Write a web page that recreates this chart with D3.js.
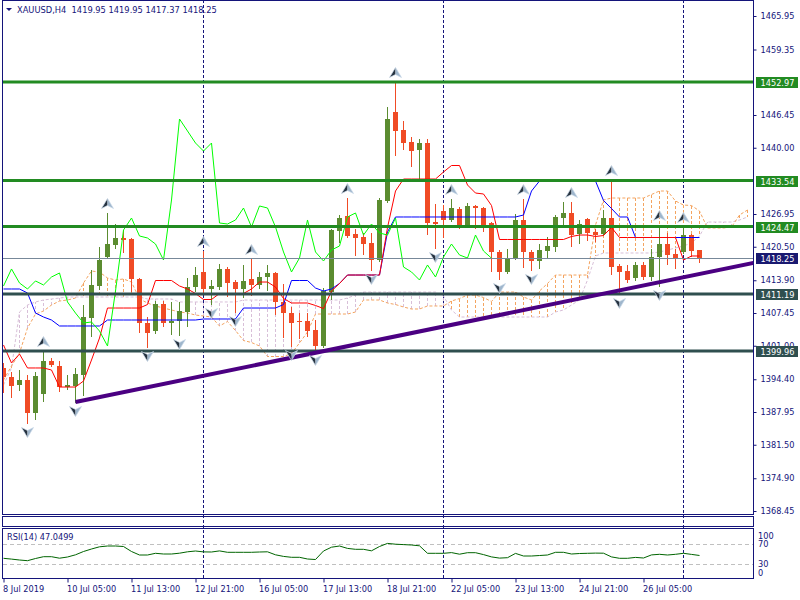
<!DOCTYPE html>
<html><head><meta charset="utf-8">
<script src="https://cdn.jsdelivr.net/npm/d3@7/dist/d3.min.js"></script>
<style>
body{margin:0;background:#fff}
svg{display:block;font-family:"DejaVu Sans",Verdana,sans-serif}
</style>
</head><body>
<svg id="chart" width="800" height="600"></svg>
<script>
// ---------- DATA ----------
const symbolTitle = "XAUUSD,H4  1419.95 1419.95 1417.37 1418.25";
const rsiTitle = "RSI(14) 47.0499";

const opens = [1396.61,1394.84,1393.27,1394.25,1387.75,1391.49,1398.00,1397.01,1392.87,1393.07,
1395.24,1406.46,1412.77,1418.48,1420.84,1422.22,1422.03,1414.15,1405.48,1403.90,
1409.22,1405.48,1405.87,1407.65,1412.58,1415.53,1412.18,1412.58,1416.12,1413.56,
1412.18,1414.15,1412.97,1414.54,1415.33,1409.62,1407.44,1405.87,1405.87,1404.10,
1400.95,1411.59,1423.60,1426.55,1423.01,1422.42,1421.23,1417.89,1429.51,1447.04,
1443.49,1441.13,1439.55,1440.93,1425.37,1427.54,1425.77,1427.93,1424.59,1428.53,
1428.13,1425.18,1419.47,1415.53,1418.09,1425.77,1419.47,1417.69,1419.66,1420.45,
1426.16,1427.15,1423.01,1425.97,1423.40,1423.01,1426.16,1416.71,1415.73,1414.34,
1416.91,1414.54,1418.48,1421.04,1419.07,1419.47,1422.81,1419.95];

const highs = [1397.60,1395.83,1396.22,1395.24,1395.83,1399.96,1398.59,1398.00,1395.24,1396.61,
1409.03,1415.92,1420.45,1427.15,1424.98,1423.80,1422.20,1414.30,1406.66,1409.81,
1409.81,1409.62,1409.62,1414.34,1416.51,1419.66,1413.95,1417.10,1416.51,1413.95,
1416.91,1418.09,1415.53,1416.91,1415.50,1413.17,1408.63,1407.44,1407.44,1406.07,
1412.38,1424.00,1426.75,1430.10,1424.00,1423.21,1423.21,1430.10,1448.02,1452.95,
1445.27,1442.11,1441.72,1441.72,1428.92,1428.72,1429.91,1428.33,1429.12,1428.72,
1428.33,1425.37,1419.86,1420.06,1426.95,1429.91,1419.86,1421.04,1422.42,1426.75,
1429.31,1429.31,1425.77,1426.16,1424.00,1427.74,1433.64,1417.10,1416.91,1417.50,
1417.50,1420.06,1424.78,1423.21,1420.06,1424.39,1423.00,1419.95];

const lows = [1391.69,1390.70,1392.08,1385.58,1386.37,1389.92,1396.81,1391.89,1392.28,1389.72,
1391.10,1402.72,1411.98,1418.28,1420.06,1419.27,1411.59,1403.51,1400.55,1403.31,
1404.69,1403.12,1402.92,1404.69,1411.59,1411.39,1409.03,1411.98,1410.60,1407.44,
1410.40,1410.80,1412.18,1411.78,1407.05,1402.53,1400.75,1402.33,1402.72,1399.77,
1400.55,1410.01,1421.23,1422.22,1418.68,1418.88,1415.73,1417.50,1429.12,1438.37,
1439.55,1436.20,1433.64,1422.81,1420.06,1422.22,1425.37,1424.00,1424.39,1424.00,
1423.40,1415.53,1413.95,1415.14,1417.89,1416.32,1415.73,1416.12,1418.28,1419.47,
1424.39,1420.45,1421.04,1421.63,1421.43,1422.62,1414.94,1411.00,1413.36,1413.76,
1413.95,1413.76,1412.58,1416.91,1416.12,1419.07,1418.48,1417.37];

const closes = [1394.84,1393.07,1394.25,1387.75,1395.04,1398.00,1397.21,1392.87,1393.27,1395.43,
1406.66,1412.97,1417.89,1421.04,1422.22,1421.83,1414.15,1405.48,1403.51,1409.22,
1405.48,1405.87,1407.84,1412.58,1414.94,1412.18,1412.77,1416.12,1413.36,1412.18,
1413.76,1412.97,1414.54,1415.33,1409.62,1407.44,1405.48,1405.68,1403.90,1400.95,
1411.78,1423.80,1426.16,1422.62,1422.22,1421.04,1417.89,1429.71,1445.66,1443.30,
1440.93,1439.35,1440.93,1425.18,1424.98,1425.77,1428.13,1424.39,1428.53,1428.13,
1424.39,1419.47,1415.53,1418.28,1425.77,1419.47,1417.69,1419.86,1420.65,1426.36,
1427.15,1422.81,1424.98,1423.21,1422.81,1426.16,1416.51,1415.53,1413.95,1416.91,
1414.54,1418.48,1421.04,1418.88,1418.28,1422.81,1419.66,1418.25];

// Ichimoku lines
const tenkan = [1401.15,1397.60,1399.37,1396.62,1396.62,1396.62,1396.22,1392.87,1392.87,1392.87,
1394.05,1398.19,1402.52,1408.43,1408.43,1408.43,1408.43,1408.43,1409.12,1413.85,
1413.85,1413.85,1412.77,1412.18,1411.29,1410.11,1410.11,1411.29,1411.29,1411.29,
1411.29,1412.18,1413.55,1413.55,1412.57,1410.30,1409.42,1409.42,1409.42,1408.93,
1408.33,1411.78,1413.26,1414.93,1414.93,1414.93,1414.93,1414.93,1424.29,1431.48,
1433.84,1433.84,1433.84,1433.84,1433.84,1435.22,1436.50,1436.50,1432.66,1431.08,
1430.89,1428.62,1421.93,1421.93,1421.93,1421.93,1421.93,1421.93,1421.93,1421.93,
1421.93,1422.52,1422.81,1422.81,1422.52,1422.71,1424.29,1422.32,1422.32,1422.32,
1422.32,1422.32,1422.32,1422.32,1422.32,1417.89,1418.68,1418.68];

const kijun = [1412.18,1412.18,1412.18,1411.39,1407.45,1406.66,1406.07,1404.89,1404.89,1404.89,
1404.89,1404.89,1404.89,1406.07,1406.07,1406.07,1406.07,1406.07,1406.07,1406.07,
1406.07,1406.07,1406.07,1406.07,1406.07,1406.27,1406.27,1406.27,1406.27,1406.27,
1408.43,1408.43,1408.43,1408.43,1408.43,1409.12,1413.85,1413.85,1413.85,1412.37,
1411.78,1412.18,1413.26,1414.93,1414.93,1414.93,1414.93,1414.93,1423.40,1426.36,
1426.36,1426.36,1426.36,1426.36,1426.36,1426.36,1426.36,1426.36,1426.36,1426.36,
1426.36,1426.36,1426.36,1426.36,1426.36,1426.75,1431.48,1433.45,1433.45,1433.45,
1433.45,1433.45,1433.45,1433.45,1433.45,1429.61,1428.03,1426.36,1426.36,1422.32,
1422.32,1422.32,1422.32,1422.32,1422.32,1422.32,1422.32,1422.32];

const spanA = [1394.25,1397.01,1399.57,1404.49,1407.25,1407.84,1409.02,1409.81,1410.01,1410.40,
1413.36,1415.72,1415.52,1414.34,1413.95,1414.15,1413.55,1410.21,1409.42,1408.83,
1408.43,1408.04,1407.65,1407.45,1407.05,1406.86,1406.66,1404.89,1405.77,1404.00,
1402.03,1401.64,1400.95,1398.88,1398.88,1398.88,1399.47,1401.54,1403.71,1407.25,
1407.25,1407.25,1407.25,1407.25,1407.65,1410.01,1410.01,1410.01,1409.42,1409.12,
1408.63,1408.24,1408.24,1408.83,1408.83,1408.83,1409.81,1410.30,1410.99,1410.99,
1410.50,1409.71,1411.58,1411.58,1411.58,1410.60,1410.01,1411.78,1413.26,1414.93,
1414.93,1414.93,1414.93,1414.93,1424.78,1429.71,1430.10,1430.10,1430.10,1430.10,
1430.10,1430.79,1431.48,1431.48,1429.51,1428.72,1428.62,1427.54,1424.19,1424.19,
1424.19,1424.39,1426.75,1427.74];

const spanB = [1393.27,1396.62,1407.65,1409.02,1409.62,1410.01,1410.21,1410.40,1410.60,1410.60,
1410.60,1410.60,1410.60,1410.60,1410.60,1410.60,1410.60,1410.60,1410.21,1410.21,
1410.21,1410.21,1409.62,1409.62,1409.62,1409.62,1409.62,1409.62,1409.62,1409.62,
1410.01,1410.01,1410.01,1410.01,1410.01,1410.01,1410.01,1410.01,1410.01,1410.01,
1410.01,1410.01,1410.01,1410.40,1410.99,1411.58,1411.58,1411.58,1411.58,1411.58,
1411.58,1411.58,1411.58,1411.58,1411.58,1410.80,1408.04,1406.66,1406.66,1406.66,
1406.66,1406.66,1406.66,1406.66,1406.66,1406.66,1406.66,1406.66,1406.66,1407.65,
1408.04,1409.02,1410.01,1413.95,1418.68,1419.27,1419.27,1419.27,1419.27,1419.27,
1419.27,1419.27,1419.46,1419.86,1420.25,1420.65,1421.24,1422.62,1425.37,1425.37,
1425.37,1425.37,1425.77,1426.36];

const chikouShift = 26;

const rsi = [41.4,39.8,38.0,36.6,41.0,44.6,44.6,41.6,44.0,48.4,
55.0,60.0,64.4,66.0,66.0,65.0,55.0,48.0,48.0,51.4,
50.0,50.0,51.6,54.4,56.0,54.2,54.0,56.2,53.4,53.4,
53.4,53.4,54.0,54.4,48.4,45.2,43.4,43.4,40.0,39.0,
56.0,63.6,66.0,61.2,59.4,59.4,56.4,65.0,71.2,69.6,
68.8,68.0,66.4,51.4,51.4,51.4,52.8,49.6,52.6,52.6,
48.8,44.2,41.8,42.6,51.2,46.0,46.0,47.0,48.0,53.4,
53.4,50.0,51.0,51.4,51.8,51.6,44.2,41.4,41.4,43.2,
42.0,48.2,49.4,48.0,49.4,51.4,49.2,47.05];

const upFractals = [5,13,25,31,43,49,56,65,71,76,82,85];
const downFractals = [3,9,18,22,26,29,36,39,46,54,62,66,77,82];

const greenLevels = [1452.97,1433.54,1424.47];
const darkLevels = [1411.19,1399.96];
const bidPrice = 1418.25;

const trendBars = [9, 87];
const trendPrices = [1389.92, 1415.13];

const priceTicks = [1465.95,1459.35,1446.45,1440.00,1426.95,1420.50,1413.90,1407.45,1401.00,1394.40,1387.95,1381.50,1374.90,1368.45];
const timeTickBars = [0,8,16,24,32,40,48,56,64,72,80];
const timeTickLabels = ["8 Jul 2019","10 Jul 05:00","11 Jul 13:00","12 Jul 21:00","16 Jul 05:00","17 Jul 13:00","18 Jul 21:00","22 Jul 05:00","23 Jul 13:00","24 Jul 21:00","26 Jul 05:00"];
const separatorBars = [25,55,85];
const rsiLevels = [70,30];
const rsiLabels = [100,70,30,0];

// ---------- STYLE ----------
const NAVY = "#14147a";
const BULL = "#5b8c30", BEAR = "#f04b25";
const SANDY = "#f4a460", THISTLE = "#d8bfd8";
const GREEN = "#228b22", DARK = "#2f4f4f", BIDC = "#778899", BIDBOX = "#191970";
const PURPLE = "#4b0082";
const FS = 8.2;

const svg = d3.select("#chart");
const PL = 2.5, PR = 753.5, PB = 514.5;

const x = d3.scaleLinear().domain([0, 87]).range([3.5, 699.5]);
const y = d3.scaleLinear().domain([1368.45, 1465.95]).range([511, 16]);
const yR = d3.scaleLinear().domain([0, 100]).range([579, 529]);

const defs = svg.append("defs");
defs.append("clipPath").attr("id","clipMain").append("rect")
  .attr("x",3).attr("y",0).attr("width",750).attr("height",514);
defs.append("clipPath").attr("id","clipRsi").append("rect")
  .attr("x",3).attr("y",529).attr("width",750).attr("height",49);

// separators
svg.append("g").selectAll("line").data(separatorBars).join("line")
  .attr("x1",d=>x(d)).attr("x2",d=>x(d)).attr("y1",0).attr("y2",578)
  .attr("stroke",NAVY).attr("stroke-dasharray","3,2").attr("shape-rendering","crispEdges");

const gM = svg.append("g").attr("clip-path","url(#clipMain)");

// cloud verticals
const cIdx = d3.range(spanA.length);
gM.append("g").selectAll("line").data(cIdx).join("line")
  .attr("x1",i=>x(i)).attr("x2",i=>x(i))
  .attr("y1",i=>y(spanA[i])).attr("y2",i=>y(spanB[i]))
  .attr("stroke",i=>spanA[i]>=spanB[i]?SANDY:THISTLE)
  .attr("stroke-dasharray","3,2").attr("shape-rendering","crispEdges");

const lineGen = d3.line().x((d,i)=>x(i)).y(d=>y(d));
gM.append("path").attr("d",lineGen(spanB)).attr("fill","none").attr("stroke",THISTLE).attr("stroke-dasharray","3,2");
gM.append("path").attr("d",lineGen(spanA)).attr("fill","none").attr("stroke",SANDY).attr("stroke-dasharray","3,2");

// candles
const bars = d3.range(opens.length);
const col = i => closes[i] >= opens[i] ? BULL : BEAR;
const gC = gM.append("g").attr("shape-rendering","crispEdges");
gC.selectAll("line").data(bars).join("line")
  .attr("x1",i=>x(i)).attr("x2",i=>x(i))
  .attr("y1",i=>y(highs[i])).attr("y2",i=>y(lows[i]))
  .attr("stroke",col);
gC.selectAll("rect").data(bars).join("rect")
  .attr("x",i=>x(i)-2.5).attr("width",5)
  .attr("y",i=>y(Math.max(opens[i],closes[i])))
  .attr("height",i=>Math.max(1,Math.abs(y(opens[i])-y(closes[i]))))
  .attr("fill",col);

// tenkan, kijun, chikou
gM.append("path").attr("d",lineGen(kijun)).attr("fill","none").attr("stroke","#0000ff");
gM.append("path").attr("d",lineGen(tenkan)).attr("fill","none").attr("stroke","#ff0000");
gM.append("path").attr("d",lineGen(closes.slice(chikouShift))).attr("fill","none").attr("stroke","#00ff00");

// horizontal levels
gM.append("line").attr("x1",PL).attr("x2",PR).attr("y1",y(bidPrice)).attr("y2",y(bidPrice))
  .attr("stroke",BIDC).attr("shape-rendering","crispEdges");
gM.append("g").selectAll("line").data(greenLevels).join("line")
  .attr("x1",PL).attr("x2",PR).attr("y1",d=>y(d)).attr("y2",d=>y(d))
  .attr("stroke",GREEN).attr("stroke-width",3);
gM.append("g").selectAll("line").data(darkLevels).join("line")
  .attr("x1",PL).attr("x2",PR).attr("y1",d=>y(d)).attr("y2",d=>y(d))
  .attr("stroke",DARK).attr("stroke-width",3);

// trend line (ray)
const bEnd = x.invert(PR);
const tSlope = (trendPrices[1]-trendPrices[0])/(trendBars[1]-trendBars[0]);
gM.append("line").attr("x1",x(trendBars[0])).attr("y1",y(trendPrices[0]))
  .attr("x2",x(bEnd)).attr("y2",y(trendPrices[0]+tSlope*(bEnd-trendBars[0])))
  .attr("stroke",PURPLE).attr("stroke-width",4);

// fractals
function arrow(g, cx, cy, up){
  const s = up ? 1 : -1;
  g.append("path").attr("d",`M${cx},${cy-5.5*s} L${cx-6},${cy+4.5*s} L${cx},${cy+1.5*s} Z`).attr("fill","#26323f");
  g.append("path").attr("d",`M${cx},${cy-5.5*s} L${cx+6},${cy+4.5*s} L${cx},${cy+1.5*s} Z`).attr("fill","#9fb6cc");
  g.append("path").attr("d",`M${cx},${cy-5.5*s} L${cx-6},${cy+4.5*s} L${cx},${cy+1.5*s} L${cx+6},${cy+4.5*s} Z`)
    .attr("fill","none").attr("stroke","#c8d8e8").attr("stroke-width",0.7);
}
const gF = gM.append("g");
upFractals.forEach(i=>arrow(gF, x(i), y(highs[i])-9, true));
downFractals.forEach(i=>arrow(gF, x(i), y(lows[i])+8, false));

// frames
const frame = svg.append("g").attr("fill","none").attr("stroke",NAVY).attr("shape-rendering","crispEdges");
frame.append("rect").attr("x",PL).attr("y",0.5).attr("width",PR-PL).attr("height",PB-0.5);
frame.append("rect").attr("x",PL).attr("y",516.5).attr("width",PR-PL).attr("height",10);
frame.append("rect").attr("x",PL).attr("y",528.5).attr("width",PR-PL).attr("height",50);

// price axis
const yAxis = d3.axisRight(y).tickValues(priceTicks).tickSize(3).tickFormat(d3.format(".2f"));
const ga = svg.append("g").attr("transform",`translate(${PR},0)`).call(yAxis);
ga.select(".domain").remove();
ga.selectAll("line").attr("stroke",NAVY);
ga.selectAll("text").attr("x",7).attr("fill",NAVY).attr("font-size",FS).attr("font-family","DejaVu Sans");

// level labels
const labels = [];
greenLevels.forEach(v=>labels.push({v,c:GREEN}));
darkLevels.forEach(v=>labels.push({v,c:DARK}));
labels.push({v:bidPrice,c:BIDBOX});
const gl = svg.append("g").selectAll("g").data(labels).join("g");
gl.append("rect").attr("x",756).attr("width",42).attr("y",d=>Math.round(y(d.v))-5).attr("height",11).attr("fill",d=>d.c);
gl.append("text").attr("x",760.5).attr("y",d=>Math.round(y(d.v))+3.5).attr("fill","#fff")
  .attr("font-size",FS).text(d=>d3.format(".2f")(d.v));

// RSI
const gR = svg.append("g").attr("clip-path","url(#clipRsi)");
gR.selectAll("line").data(rsiLevels).join("line")
  .attr("x1",PL).attr("x2",PR).attr("y1",d=>yR(d)).attr("y2",d=>yR(d))
  .attr("stroke","#c0c0c0").attr("stroke-dasharray","4,3").attr("shape-rendering","crispEdges");
gR.append("path").attr("d",d3.line().x((d,i)=>x(i)).y(d=>yR(d))(rsi))
  .attr("fill","none").attr("stroke","#006400");
svg.append("g").selectAll("text").data(rsiLabels).join("text")
  .attr("x",758).attr("y",d=>Math.max(538.5,Math.min(575.5,yR(d)+3)))
  .attr("fill",NAVY).attr("font-size",FS).text(d=>d);
svg.append("text").attr("x",7).attr("y",540).attr("fill",NAVY).attr("font-size",FS).text(rsiTitle);

// time axis
const xAxis = d3.axisBottom(x).tickValues(timeTickBars).tickSize(4).tickFormat((d,i)=>timeTickLabels[i]);
const gx = svg.append("g").attr("transform","translate(0,578.5)").call(xAxis);
gx.select(".domain").remove();
gx.selectAll("line").attr("stroke",NAVY);
gx.selectAll("text").attr("text-anchor","start").attr("x",-1).attr("y",7.5)
  .attr("fill",NAVY).attr("font-size",FS).attr("font-family","DejaVu Sans");

// title
svg.append("path").attr("d","M6,8 L12,8 L9,11 Z").attr("fill",NAVY);
svg.append("text").attr("x",17).attr("y",13).attr("fill",NAVY).attr("font-size",8.3)
  .style("white-space","pre").text(symbolTitle);
</script>
</body></html>
